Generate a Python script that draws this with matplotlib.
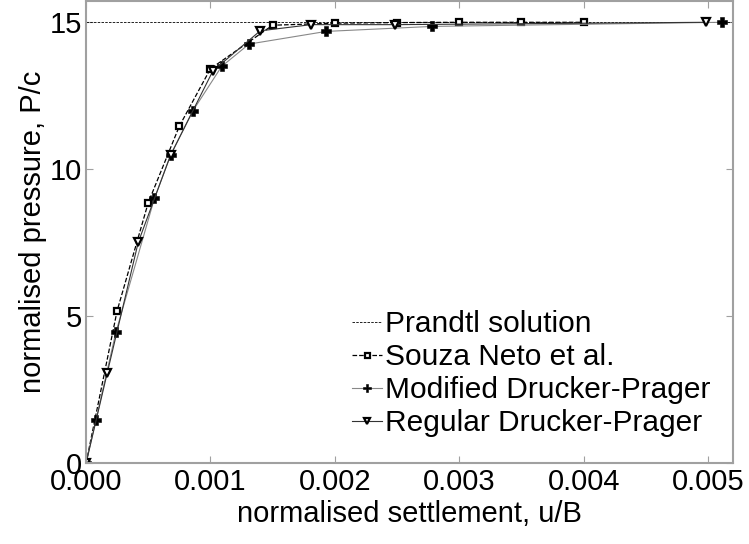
import matplotlib
matplotlib.use('Agg')
import matplotlib.pyplot as plt
import numpy as np

plt.rcParams['font.family'] = ['Liberation Sans', 'DejaVu Sans']

# Prandtl solution
prandtl_x = [0.0, 0.0052]
prandtl_y = [15.0, 15.0]

# Souza Neto et al.
souza_x = [0.0, 0.00025, 0.0005, 0.00075, 0.001, 0.0015, 0.002, 0.0025, 0.003, 0.0035, 0.004]
souza_y = [0.0, 5.18, 8.85, 11.45, 13.4, 14.88, 14.95, 14.97, 14.98, 14.98, 14.98]

# Modified Drucker-Prager
mod_x = [0.0, 0.00008, 0.00024, 0.00055, 0.00068, 0.00086, 0.00109, 0.00131, 0.00193, 0.00278, 0.00511]
mod_y = [0.0, 1.48, 4.45, 9.0, 10.47, 11.98, 13.48, 14.24, 14.67, 14.84, 14.98]

# Regular Drucker-Prager
reg_x = [0.0, 0.00017, 0.00042, 0.00068, 0.00102, 0.0014, 0.00181, 0.00248, 0.00498]
reg_y = [0.0, 3.06, 7.51, 10.47, 13.33, 14.69, 14.9, 14.9, 14.98]

fig = plt.figure(figsize=(7.49, 5.44), dpi=100)
ax = fig.add_axes([0.1148, 0.148, 0.8638, 0.85])

ax.plot(prandtl_x, prandtl_y, color='black', linestyle='--', linewidth=0.6,
        dashes=(3, 1.5), label='Prandtl solution')
ax.plot(souza_x, souza_y, color='black', linestyle='--', linewidth=0.9, marker='s',
        markersize=4.5, markerfacecolor='white', markeredgecolor='black',
        markeredgewidth=1.6, label='Souza Neto et al.')
ax.plot(mod_x, mod_y, color='#888888', linestyle='-', linewidth=0.8, marker='P',
        markersize=6.5, markerfacecolor='black', markeredgecolor='black',
        markeredgewidth=0.4, label='Modified Drucker-Prager')
ax.plot(reg_x, reg_y, color='#333333', linestyle='-', linewidth=0.8, marker='v',
        markersize=6, markerfacecolor='white', markeredgecolor='black',
        markeredgewidth=1.6, label='Regular Drucker-Prager')

ax.set_xlim(0, 0.0052)
ax.set_ylim(0, 15.7)
ax.set_xticks([0, 0.001, 0.002, 0.003, 0.004, 0.005])
ax.set_xticklabels(['0.000', '0.001', '0.002', '0.003', '0.004', '0.005'])
ax.set_yticks([0, 5, 10, 15])

for s in ax.spines.values():
    s.set_color('#a0a0a0')
    s.set_linewidth(1.5)
ax.tick_params(direction='in', top=True, right=True, length=5, color='#a0a0a0',
               labelsize=21, pad=3)

ax.set_xlabel('normalised settlement, u/B', fontsize=21, labelpad=3)
ax.set_ylabel('normalised pressure, P/c', fontsize=21, labelpad=2)

ax.legend(loc='lower right', frameon=False, fontsize=21.5, handlelength=1.0,
          handletextpad=0.1, labelspacing=0.17, borderaxespad=0.2,
          bbox_to_anchor=(0.992, 0.018), markerscale=0.8)

plt.savefig('out.png', dpi=100)
